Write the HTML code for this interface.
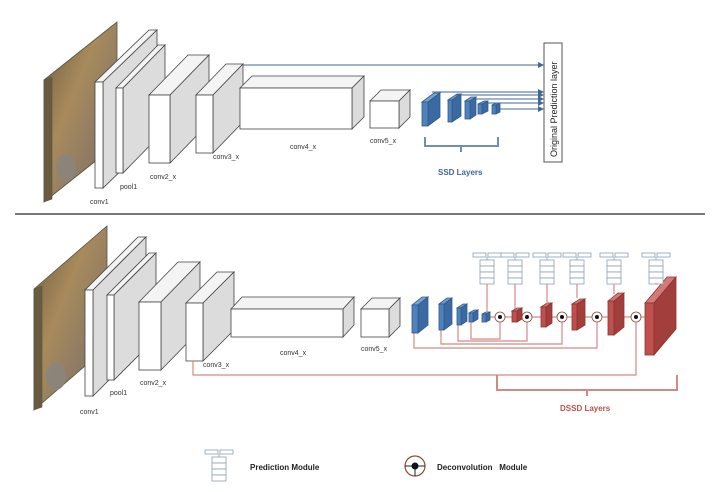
<!DOCTYPE html>
<html><head><meta charset="utf-8"><style>
html,body{margin:0;padding:0;background:#fff;width:720px;height:492px;overflow:hidden}
svg{display:block}
text{font-family:"Liberation Sans",sans-serif}
</style></head><body>
<svg id="s" width="720" height="492" viewBox="0 0 720 492" xmlns="http://www.w3.org/2000/svg">
<defs>
<linearGradient id="img" x1="0" y1="0" x2="1" y2="1">
<stop offset="0" stop-color="#6e5a3c"/><stop offset="0.4" stop-color="#a88a5c"/><stop offset="0.7" stop-color="#8c7a64"/><stop offset="1" stop-color="#7a6a52"/>
</linearGradient>
<marker id="ab" markerWidth="6" markerHeight="6" refX="5" refY="3" orient="auto"><path d="M0,0 L6,3 L0,6z" fill="#3f6899"/></marker>
</defs>
<g id="g"></g>
<!-- separator -->
<line x1="15" y1="214" x2="705" y2="214" stroke="#777" stroke-width="2"/>
<!-- top labels -->
<g font-size="7" fill="#333">
<text x="90" y="204">conv1</text><text x="120" y="189">pool1</text><text x="150" y="179">conv2_x</text>
<text x="213" y="159">conv3_x</text><text x="290" y="149">conv4_x</text><text x="370" y="143">conv5_x</text>
<text x="80" y="414">conv1</text><text x="110" y="395">pool1</text><text x="140" y="385">conv2_x</text>
<text x="203" y="367">conv3_x</text><text x="280" y="355">conv4_x</text><text x="361" y="351">conv5_x</text>
</g>
<!-- top arrows -->
<g stroke="#3f6899" stroke-width="1" fill="none" marker-end="url(#ab)">
<line x1="243" y1="65" x2="543" y2="65"/>
<line x1="432" y1="92" x2="543" y2="92"/>
<line x1="456" y1="95" x2="543" y2="95"/>
<line x1="474" y1="99" x2="543" y2="99"/>
<line x1="486" y1="103" x2="543" y2="103"/>
<line x1="500" y1="109" x2="543" y2="109"/>
</g>
<rect x="544" y="43" width="18" height="119" fill="#fff" stroke="#555" stroke-width="1"/>
<text transform="translate(557,157) rotate(-90)" font-size="9" fill="#222">Original Prediction layer</text>
<path d="M425,137 V146 H498 V137 M461,146 V152" stroke="#6d8fb8" stroke-width="2" fill="none"/>
<text x="438" y="175" font-size="8" font-weight="bold" fill="#3f6899">SSD Layers</text>
<!-- bottom red lines -->
<g stroke="#d28a88" stroke-width="1.2" fill="none">
<path d="M193,361 V375 H636 V317"/>
<path d="M414,333 V348 H597 V317"/>
<path d="M441,330 V344 H562 V317"/>
<path d="M458,325 V341 H527 V317"/>
<path d="M471,322 V339 H500 V317"/>
<line x1="486" y1="317" x2="648" y2="317"/>
<path d="M497,375 V390 H677 V375 M587,390 V396" stroke-width="2"/>
</g>
<text x="560" y="411" font-size="8" font-weight="bold" fill="#c0504d">DSSD Layers</text>
<g id="b"></g>
<!-- legend -->
<g id="leg"></g>
<text x="250" y="470" font-size="8" font-weight="bold" fill="#222">Prediction Module</text>
<circle cx="415" cy="466" r="10" fill="#fff" stroke="#8a4a3a" stroke-width="1.2"/>
<line x1="405" y1="466" x2="425" y2="466" stroke="#222" stroke-width="1"/>
<line x1="415" y1="466" x2="415" y2="476" stroke="#222" stroke-width="1"/>
<circle cx="415" cy="466" r="3.5" fill="#111"/>
<text x="437" y="470" font-size="8" font-weight="bold" fill="#222">Deconvolution&#160;&#160; Module</text>
</svg>
<script>
var NS="http://www.w3.org/2000/svg";
function el(p,t,a){var e=document.createElementNS(NS,t);for(var k in a)e.setAttribute(k,a[k]);p.appendChild(e);return e;}
var g=document.getElementById('g'),b=document.getElementById('b');
function box(P,x,y,w,h,dx,dy,f,s,t,st){
 st=st||"#444";
 el(P,'polygon',{points:[x,y,x+dx,y+dy,x+w+dx,y+dy,x+w,y].join(' '),fill:t,stroke:st,'stroke-width':0.8});
 el(P,'polygon',{points:[x+w,y,x+w+dx,y+dy,x+w+dx,y+h+dy,x+w,y+h].join(' '),fill:s,stroke:st,'stroke-width':0.8});
 el(P,'rect',{x:x,y:y,width:w,height:h,fill:f,stroke:st,'stroke-width':0.8});
}
function img(x,y,h,x2,y2){
 el(g,'polygon',{points:[x,y,x2,y2,x2,y2+h,x,y+h].join(' '),fill:'url(#img)',stroke:'#554',"stroke-width":0.8});
 el(g,'polygon',{points:[x,y,x+8,y-3,x+8,y+h-3,x,y+h].join(' '),fill:'#6a5a40',stroke:'#554',"stroke-width":0.6});
 el(g,'ellipse',{cx:x+22,cy:y+h*0.72,rx:10,ry:14,fill:'#8a8580',opacity:0.8});
}
var W='#fff',S='#dcdcdc',T='#f4f4f4';
// top
img(44,80,122,117,22);
box(g,95,82,8,106,54,-52,W,S,T);
box(g,116,88,7,85,42,-43,W,S,T);
box(g,149,95,21,68,39,-40,W,S,T);
box(g,196,95,17,58,30,-31,W,S,T);
box(g,240,88,112,41,12,-12,W,S,T);
box(g,370,101,29,27,11,-11,W,S,T);
var BF='#4f81bd',BS='#3b6aa3',BT='#7aa0d0',BST='#2f5a8a';
box(g,422,102,6,24,12,-9,BF,BS,BT,BST);
box(g,448,100,4,22,9,-6,BF,BS,BT,BST);
box(g,465,101,5,18,6,-4,BF,BS,BT,BST);
box(g,478,104,4,10,6,-3,BF,BS,BT,BST);
box(g,492,105,4,9,4,-2,BF,BS,BT,BST);
// bottom
img(34,289,121,107,226);
box(g,85,290,8,106,53,-53,W,S,T);
box(g,107,295,7,85,42,-42,W,S,T);
box(g,139,302,22,68,39,-40,W,S,T);
box(g,186,303,17,58,31,-31,W,S,T);
box(g,231,309,112,28,11,-12,W,S,T);
box(g,361,309,28,28,11,-11,W,S,T);
box(b,412,305,6,28,10,-8,BF,BS,BT,BST);
box(b,439,304,5,26,8,-6,BF,BS,BT,BST);
box(b,457,308,4,17,6,-4,BF,BS,BT,BST);
box(b,469,313,4,9,5,-3,BF,BS,BT,BST);
box(b,482,314,4,8,4,-2,BF,BS,BT,BST);
var RF='#c0504d',RS='#a23e3b',RT='#d27a78',RST='#8a3431';
box(b,512,311,5,11,5,-3,RF,RS,RT,RST);
box(b,541,307,5,20,6,-4,RF,RS,RT,RST);
box(b,572,304,5,26,8,-5,RF,RS,RT,RST);
box(b,608,301,6,34,10,-8,RF,RS,RT,RST);
box(b,645,303,9,52,22,-26,RF,RS,RT,RST);
// deconv circles
[500,527,562,597,636].forEach(function(cx){
 el(b,'circle',{cx:cx,cy:317,r:5,fill:'#fff',stroke:'#8a4a3a','stroke-width':0.8});
 el(b,'circle',{cx:cx,cy:317,r:2,fill:'#111'});
});
// prediction modules
function pm(P,cx,ty,dy2,conn){
 el(P,'rect',{x:cx-14,y:ty,width:13,height:4,fill:'#fff',stroke:'#8aa0b8','stroke-width':0.8});
 el(P,'rect',{x:cx+1,y:ty,width:13,height:4,fill:'#fff',stroke:'#8aa0b8','stroke-width':0.8});
 el(P,'line',{x1:cx,y1:ty+4,x2:cx,y2:ty+7,stroke:'#8aa0b8','stroke-width':0.8});
 for(var i=0;i<4;i++)el(P,'rect',{x:cx-7,y:ty+7+i*6,width:14,height:6,fill:'#fff',stroke:'#8aa0b8','stroke-width':0.8});
 if(conn)el(P,'line',{x1:cx,y1:ty+31,x2:cx,y2:conn,stroke:'#d28a88','stroke-width':1.2});
}
[[487,313],[515,309],[547,304],[577,298],[614,294],[656,283]].forEach(function(p){pm(b,p[0],253,0,p[1]);});
pm(document.getElementById('leg'),219,450,0,0);
</script>
</body></html>
